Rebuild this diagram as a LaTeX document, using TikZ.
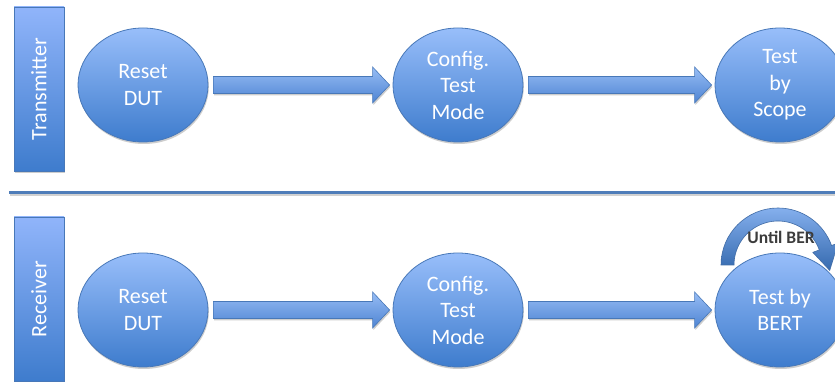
\documentclass[tikz,border=0pt]{standalone}
\usepackage{fontspec}
\setmainfont{Carlito}
\usetikzlibrary{shapes.geometric,shadows,calc}

\definecolor{blueTop}{RGB}{152,190,250}
\definecolor{blueBot}{RGB}{62,124,205}
\definecolor{blueEdge}{RGB}{72,120,184}
\definecolor{arrowTop}{RGB}{150,188,245}
\definecolor{arrowBot}{RGB}{78,132,210}
\definecolor{rule}{RGB}{79,125,185}
\definecolor{labelGrey}{RGB}{60,60,60}

\tikzset{
  softshadow/.style={drop shadow={shadow xshift=0.8pt, shadow yshift=-2pt, opacity=0.28, fill=black!70}},
  stepnode/.style={ellipse, draw=blueEdge, line width=0.8pt,
    top color=blueTop, bottom color=blueBot, softshadow,
    minimum width=130pt, minimum height=114pt, inner sep=0pt,
    text=white, align=center, font=\fontsize{22}{26.5}\selectfont},
  lanebar/.style={rectangle, draw=blueEdge, line width=0.8pt,
    top color=blueTop!95!blue, bottom color=blueBot, softshadow,
    minimum width=50pt, minimum height=164pt, inner sep=0pt},
  lanetext/.style={rotate=90, text=white, font=\fontsize{22}{26}\selectfont},
  flowarrow/.style={draw=blueEdge, line width=0.6pt, top color=arrowTop, bottom color=arrowBot, softshadow},
  looparrow/.style={draw=blueEdge!90!black, line width=0.6pt, top color=arrowTop!80!blueBot, bottom color=blueBot!85!black},
}

% straight block arrow between two nodes
\newcommand{\blockarrow}[2]{%
  \path[flowarrow]
    ($(#1.east)+(5pt,8.5pt)$) -- ($(#2.west)+(-20pt,8.5pt)$) -- ($(#2.west)+(-20pt,18pt)$)
    -- ($(#2.west)+(-3pt,0pt)$)
    -- ($(#2.west)+(-20pt,-18pt)$) -- ($(#2.west)+(-20pt,-8.5pt)$) -- ($(#1.east)+(5pt,-8.5pt)$) -- cycle;}

\begin{document}
\begin{tikzpicture}[x=1pt, y=1pt]
  \useasboundingbox (0,0) rectangle (835,382);
  \clip (0,0) rectangle (835,382);
  \fill[white] (0,0) rectangle (835,382);

  % lane bars
  \node[lanebar] (tx) at (39,293) {};
  \node[lanetext] at (tx.center) {Transmitter};
  \node[lanebar] (rx) at (39,83) {};
  \node[lanetext] at (rx.center) {Receiver};

  % separator between the two lanes
  \coordinate (sepL) at (9,189);
  \coordinate (sepR) at (840,189);
  \draw[black!18, line width=2.5pt] ($(sepL)+(1,-2)$) -- ($(sepR)+(1,-2)$);
  \draw[rule, line width=3pt] (sepL) -- (sepR);

  % transmitter steps
  \node[stepnode] (t1) at (143,297) {Reset\\DUT};
  \node[stepnode] (t2) at (458,297) {Config.\\Test\\Mode};
  \node[stepnode] (t3) at (780,297) {Test\\by\\Scope};
  \blockarrow{t1}{t2}
  \blockarrow{t2}{t3}

  % receiver steps
  \node[stepnode] (r1) at (143,72) {Reset\\DUT};
  \node[stepnode] (r2) at (458,72) {Config.\\Test\\Mode};
  \blockarrow{r1}{r2}

  % loop arrow over the BERT step
  \coordinate (loopc) at (778,117);
  \path[looparrow] ($(loopc)+(180:57pt)$) arc[start angle=180, end angle=20, radius=57pt]
    -- ($(loopc)+(20:64pt)$) -- ($(loopc)+(-6:52pt)$) -- ($(loopc)+(20:37pt)$)
    -- ($(loopc)+(20:44pt)$) arc[start angle=20, end angle=180, radius=44pt] -- cycle;
  \node[text=labelGrey, font=\bfseries\fontsize{17.5}{19}\selectfont] (until) at (781,145) {Until BER};

  \node[stepnode] (r3) at (780,72) {Test by\\BERT};
  \blockarrow{r2}{r3}
\end{tikzpicture}
\end{document}
